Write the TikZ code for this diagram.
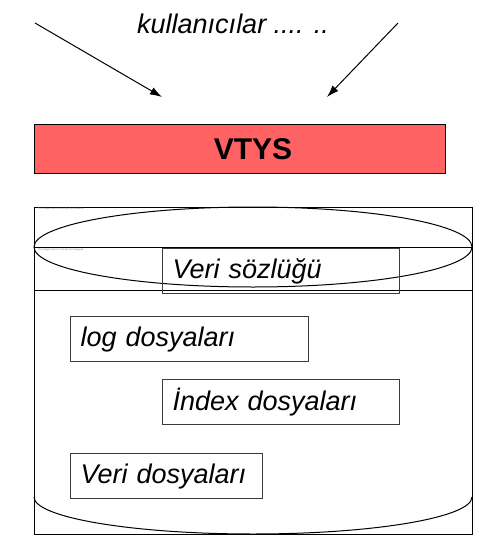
\documentclass[tikz,border=0pt]{standalone}
\usepackage{fontspec}
\setmainfont{Liberation Sans}
\usetikzlibrary{arrows.meta}
\definecolor{vtysred}{RGB}{255,98,98}
\definecolor{boxgray}{RGB}{60,60,60}
\tikzset{
  filebox/.style={draw=boxgray, line width=1.1pt, anchor=north west, inner xsep=10pt, inner ysep=0pt,
    minimum height=45pt, align=left, font=\fontsize{27}{30}\selectfont\itshape},
  userarrow/.style={line width=1pt, -{Latex[length=12pt,width=8pt]}},
  frame/.style={line width=1pt},
  tinytext/.style={font=\fontsize{2.5}{3}\selectfont, text=gray, anchor=west, inner sep=0pt}
}
\begin{document}
\begin{tikzpicture}[x=1pt,y=-1pt]
\useasboundingbox (0,0) rectangle (502,555);
% users
\node[font=\fontsize{27}{30}\selectfont\itshape, anchor=center] (users) at (233,24) {kullanıcılar .... ..};
\coordinate (l1) at (35,23);
\coordinate (l2) at (162,97);
\coordinate (r1) at (398,23);
\coordinate (r2) at (327,97);
\draw[userarrow] (l1) -- (l2);
\draw[userarrow] (r1) -- (r2);
% VTYS
\node[draw=black, line width=1pt, fill=vtysred, anchor=north west, minimum width=411pt, minimum height=49pt, inner sep=0pt] (vtys) at (34,124) {};
\node[font=\fontsize{30}{34}\selectfont\bfseries] (vtystext) at (253,149) {VTYS};
% database frame
\draw[frame] (34,207) rectangle (472,534);
\draw[frame] (34,247) -- (472,247);
\draw[frame] (34,290) -- (472,290);
\draw[frame] (253,247) ellipse[x radius=219, y radius=40];
\draw[frame] (34,497) arc[start angle=180, end angle=0, x radius=219, y radius=37];
\node[tinytext] (ph1) at (38,209) {The image cannot currently be displayed.};
\node[tinytext] (ph2) at (38,250) {The image cannot currently be displayed.};
% files
\node[filebox, minimum width=237pt, text width=217pt] (sozluk) at (162,248) {Veri sözlüğü};
\node[filebox, minimum width=238pt, text width=218pt] (log) at (70,316) {log dosyaları};
\node[filebox, minimum width=237pt, text width=217pt] (index) at (162,379) {İndex dosyaları};
\node[filebox, minimum width=192pt, text width=172pt] (veri) at (70,453) {Veri dosyaları};
\end{tikzpicture}
\end{document}
